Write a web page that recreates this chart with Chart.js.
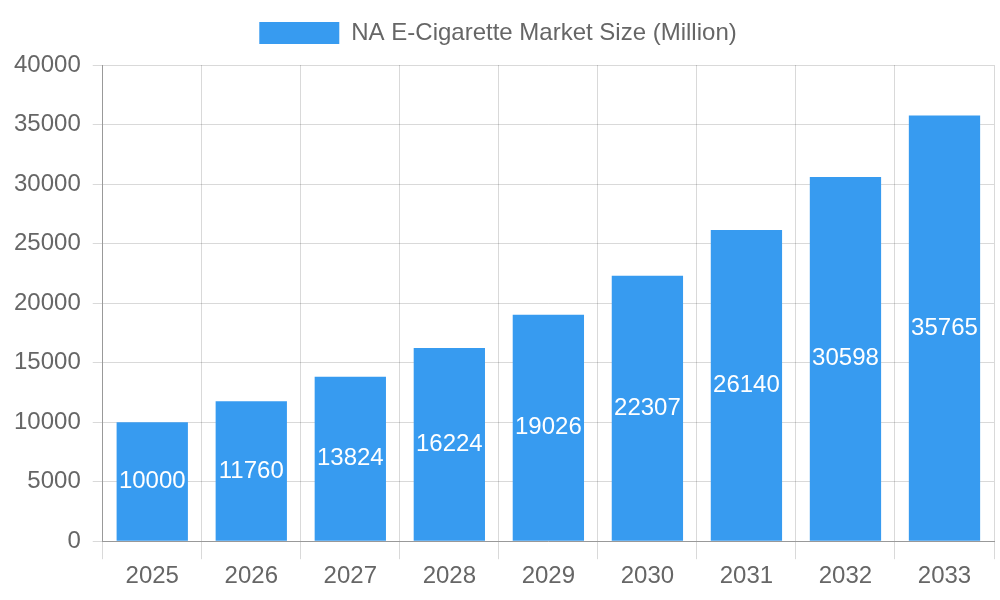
<!DOCTYPE html>
<html>
<head>
<meta charset="utf-8">
<script src="https://cdn.jsdelivr.net/npm/chart.js@4"></script>
<style>
  body { margin: 0; background: #fff; }
  #wrap { width: 1000px; height: 600px; }
</style>
</head>
<body>
<div id="wrap"><canvas id="marketChart"></canvas></div>
<script>
const years = ['2025', '2026', '2027', '2028', '2029', '2030', '2031', '2032', '2033'];
const marketSize = [10000, 11760, 13824, 16224, 19026, 22307, 26140, 30598, 35765];

// draws the value in the middle of each bar
const barLabels = {
    id: 'barLabels',
    afterDatasetsDraw(chart) {
        const ctx = chart.ctx;
        const meta = chart.getDatasetMeta(0);
        ctx.save();
        ctx.fillStyle = '#fff';
        ctx.font = '24px "Liberation Sans", Arial, sans-serif';
        ctx.textAlign = 'center';
        ctx.textBaseline = 'middle';
        meta.data.forEach((bar, i) => {
            ctx.fillText(marketSize[i], bar.x, (bar.y + bar.base) / 2);
        });
        ctx.restore();
    }
};

// a bit more room under the legend
const legendGap = {
    id: 'legendGap',
    beforeInit(chart) {
        const fit = chart.legend.fit;
        chart.legend.fit = function () {
            fit.bind(chart.legend)();
            this.height += 10;
        };
    }
};

Chart.defaults.font.family = '"Liberation Sans", Arial, sans-serif';
Chart.defaults.font.size = 24;
Chart.defaults.color = '#666';

new Chart(document.getElementById('marketChart').getContext('2d'), {
    type: 'bar',
    data: {
        labels: years,
        datasets: [{
            label: 'NA E-Cigarette Market Size (Million)',
            data: marketSize,
            backgroundColor: '#379bf0'
        }]
    },
    options: {
        responsive: true,
        maintainAspectRatio: false,
        animation: false,
        layout: { padding: { top: 5, left: 2, right: 6, bottom: 6 } },
        plugins: {
            legend: {
                position: 'top',
                labels: { boxWidth: 80, boxHeight: 22, padding: 16 }
            },
            tooltip: { enabled: false }
        },
        scales: {
            x: {
                grid: { offset: true, color: 'rgba(0,0,0,0.15)', tickLength: 18 },
                border: { color: '#999' }
            },
            y: {
                beginAtZero: true,
                max: 40000,
                grid: { color: 'rgba(0,0,0,0.15)', tickLength: 10 },
                border: { color: '#999' },
                ticks: { stepSize: 5000, padding: 12, callback: v => String(v) }
            }
        }
    },
    plugins: [barLabels, legendGap]
});
</script>
</body>
</html>
